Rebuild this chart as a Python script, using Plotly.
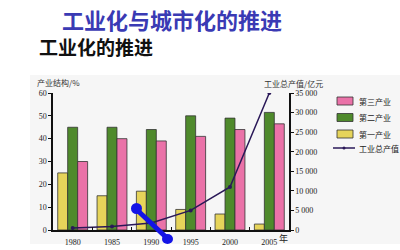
import plotly.graph_objects as go

years = ["1980", "1985", "1990", "1995", "2000", "2005"]
primary = [25, 15, 17, 9, 7, 2.6]
secondary = [45, 45, 44, 50, 49, 51.5]
tertiary = [30, 40, 39, 41, 44, 46.5]
output = [500, 900, 1800, 5000, 11000, 35000]
right_tickvals = [0, 5000, 10000, 15000, 20000, 25000, 30000, 35000]
right_ticktext = ["0", "5 000", "10 000", "15 000", "20 000", "25 000", "30 000", "35 000"]
legend_names = ["第三产业", "第二产业", "第一产业", "工业总产值"]

C_PRI, C_SEC, C_TER, C_LINE = "#e6d45a", "#4f8a2c", "#ea72a8", "#2a1858"

W, H = 400, 250
ML, MR, MT, MB = 53, 111, 93, 20
PW, PH = W - ML - MR, H - MT - MB

def px(x):
    return (x - ML) / PW

def py(y):
    return (H - MB - y) / PH

num_font = dict(family="Liberation Serif, DejaVu Serif", size=8, color="#222")
cjk = "Noto Sans CJK SC"

fig = go.Figure()
fig.add_bar(x=years, y=primary, name=legend_names[2], marker=dict(color=C_PRI, line=dict(color="#333", width=0.8)))
fig.add_bar(x=years, y=secondary, name=legend_names[1], marker=dict(color=C_SEC, line=dict(color="#333", width=0.8)))
fig.add_bar(x=years, y=tertiary, name=legend_names[0], marker=dict(color=C_TER, line=dict(color="#333", width=0.8)))
fig.add_scatter(x=years, y=output, name=legend_names[3], yaxis="y2", mode="lines+markers",
                line=dict(color=C_LINE, width=1.5), marker=dict(size=4, color=C_LINE))

shapes = [
    dict(type="rect", xref="paper", yref="paper", x0=px(30), x1=px(400), y0=py(244), y1=py(75),
         fillcolor="#f6f6f6", line=dict(width=0), layer="below"),
    dict(type="line", xref="paper", yref="paper", x0=px(136), y0=py(209), x1=px(168), y1=py(239),
         line=dict(color="#1414e6", width=5)),
    dict(type="circle", xref="paper", yref="paper", x0=px(131), x1=px(142), y0=py(214), y1=py(203),
         fillcolor="#1414e6", line=dict(width=0)),
    dict(type="circle", xref="paper", yref="paper", x0=px(162), x1=px(173), y0=py(244), y1=py(234),
         fillcolor="#1414e6", line=dict(width=0)),
]
annotations = [
    dict(text="<b>工业化与城市化的推进</b>", x=px(172), y=py(19),
         font=dict(family=cjk, size=22, color="#3a3ab4")),
    dict(text="<b>工业化的推进</b>", x=px(37), y=py(47), xanchor="left",
         font=dict(family=cjk, size=19, color="#111")),
    dict(text="产业结构/%", x=px(35), y=py(82), xanchor="left",
         font=dict(family=cjk, size=8, color="#333")),
    dict(text="工业总产值/亿元", x=px(262), y=py(83), xanchor="left",
         font=dict(family=cjk, size=8, color="#333")),
    dict(text="年", x=px(283), y=py(238),
         font=dict(family=cjk, size=9, color="#222")),
]

# manual legend
leg_colors = [C_TER, C_SEC, C_PRI]
leg_y = [101, 117.5, 134, 148]
for i, c in enumerate(leg_colors):
    shapes.append(dict(type="rect", xref="paper", yref="paper", x0=px(337), x1=px(353),
                       y0=py(leg_y[i] + 4), y1=py(leg_y[i] - 4), fillcolor=c,
                       line=dict(color="#333", width=0.8)))
shapes.append(dict(type="line", xref="paper", yref="paper", x0=px(333), x1=px(355),
                   y0=py(leg_y[3]), y1=py(leg_y[3]), line=dict(color=C_LINE, width=1.5)))
shapes.append(dict(type="circle", xref="paper", yref="paper", x0=px(342.5), x1=px(345.5),
                   y0=py(leg_y[3] + 1.5), y1=py(leg_y[3] - 1.5), fillcolor=C_LINE, line=dict(width=0)))
for i, name in enumerate(legend_names):
    annotations.append(dict(text=name, x=px(357), y=py(leg_y[i]), xanchor="left",
                            font=dict(family=cjk, size=8, color="#222")))

for a in annotations:
    a.update(xref="paper", yref="paper", showarrow=False, yanchor="middle")
    a.setdefault("xanchor", "center")

fig.update_layout(
    width=W, height=H,
    margin=dict(l=ML, r=MR, t=MT, b=MB, autoexpand=False),
    paper_bgcolor="white",
    plot_bgcolor="#f6f6f6",
    barmode="group", bargap=0.24, bargroupgap=0,
    showlegend=False,
    xaxis=dict(type="category", range=[-0.5, 5.5], showline=True, linecolor="#111", linewidth=1.5,
               ticks="inside", ticklen=3, tickson="boundaries", tickcolor="#111",
               tickfont=num_font, ticklabelstandoff=4, showgrid=False, zeroline=False,
               automargin=False),
    yaxis=dict(range=[0, 60], dtick=10, showline=True, linecolor="#111", linewidth=1.5,
               ticks="outside", ticklen=3, tickcolor="#111", tickfont=num_font,
               showgrid=False, zeroline=False, automargin=False),
    yaxis2=dict(range=[0, 35000], overlaying="y", side="right", tickvals=right_tickvals,
                ticktext=right_ticktext, showline=True, linecolor="#111", linewidth=1.5,
                ticks="outside", ticklen=3, tickcolor="#111", tickfont=num_font,
                showgrid=False, zeroline=False, automargin=False),
    shapes=shapes,
    annotations=annotations,
)

fig.write_html("out.html")
